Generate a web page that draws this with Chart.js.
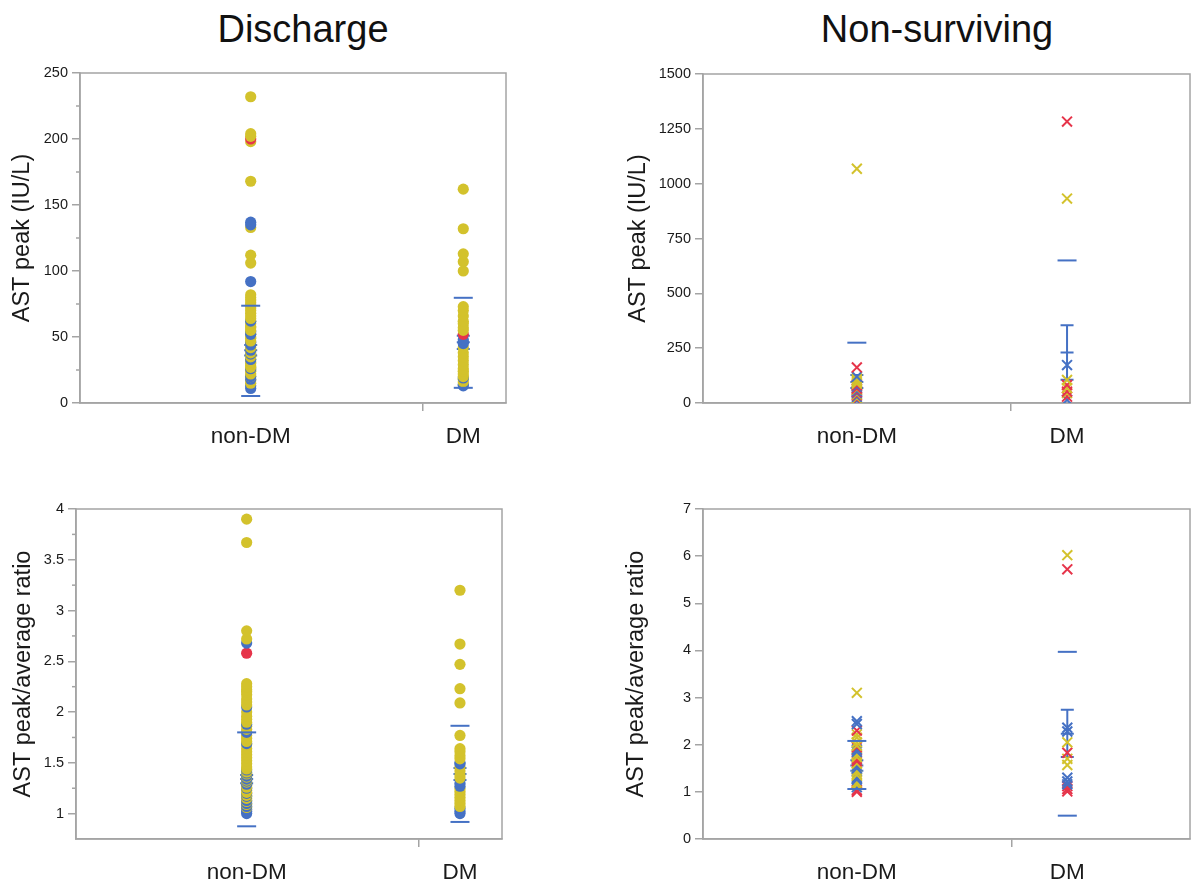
<!DOCTYPE html>
<html>
<head>
<meta charset="utf-8">
<script src="https://cdn.jsdelivr.net/npm/chart.js@4.4.1/dist/chart.umd.min.js"></script>
<style>
  body { margin: 0; background: #fff; width: 1199px; height: 885px; position: relative; overflow: hidden;
         font-family: "Liberation Sans", Arial, sans-serif; }
  canvas { position: absolute; }
  .title { position: absolute; top: 10px; font-size: 38px; line-height: 1; color: #111;
           transform: translateX(-50%); white-space: nowrap; }
</style>
</head>
<body>
<div class="title" style="left:303px">Discharge</div>
<div class="title" style="left:937px">Non-surviving</div>
<canvas id="dcAst" width="560" height="420" style="left:0;top:60px"></canvas>
<canvas id="nsAst" width="599" height="420" style="left:600px;top:60px"></canvas>
<canvas id="dcRatio" width="560" height="405" style="left:0;top:480px"></canvas>
<canvas id="nsRatio" width="599" height="405" style="left:600px;top:480px"></canvas>
<script>
const categories = ['non-DM', 'DM'];

// Discharge - AST peak (IU/L)
const dcAstNonDmYellow = [232, 204, 202, 198, 168, 133, 112, 106, 82, 80, 78, 76, 74, 72, 70, 68, 66, 64, 62, 60,
  58, 57, 55, 52, 50, 49, 47, 44, 42, 40, 38, 36, 35, 33, 31, 30, 28, 27, 25, 24, 22, 20, 17, 15];
const dcAstNonDmBlue = [137, 135, 92, 62, 54, 52, 46, 44, 40, 37, 33, 26, 20, 18, 13, 11];
const dcAstNonDmRed = [200];
const dcAstDmYellow = [162, 132, 113, 107, 100, 73, 70, 66, 62, 60, 57, 55, 42, 38, 35, 32, 29, 26, 24, 22, 20, 18, 16];
const dcAstDmBlue = [48, 46, 45, 19, 14, 13];
const dcAstDmRed = [52];
const dcAstSdHigh = [73.7, 79.7];
const dcAstSdLow = [5.3, 11.5];
const dcAstMean = [40, 46];
const dcAstSeLow = [36, 41];
const dcAstSeHigh = [44, 51];
const dcAstTicks = [0, 50, 100, 150, 200, 250];
const dcAstMinor = [25, 75, 125, 175, 225];

// Non-surviving - AST peak (IU/L)
const nsAstNonDmYellow = [1068, 112, 104, 95, 88, 62, 40, 22];
const nsAstNonDmBlue = [120, 75, 55, 45, 28, 12];
const nsAstNonDmRed = [162, 82, 66, 50, 35, 18];
const nsAstDmYellow = [932, 105, 68, 45];
const nsAstDmBlue = [173, 14];
const nsAstDmRed = [1283, 82, 52, 29];
const nsAstSdHigh = [275, 650];
const nsAstSdLow = [-83, -190];
const nsAstMean = [96, 230];
const nsAstSeLow = [68, 106];
const nsAstSeHigh = [128, 354];
const nsAstTicks = [0, 250, 500, 750, 1000, 1250, 1500];

// Discharge - AST peak/average ratio
const dcRatioNonDmYellow = [3.90, 3.67, 2.80, 2.72, 2.28, 2.25, 2.22, 2.20, 2.17, 2.13, 2.10, 2.07, 2.00, 1.96, 1.93,
  1.90, 1.86, 1.83, 1.77, 1.74, 1.71, 1.68, 1.64, 1.61, 1.58, 1.55, 1.52, 1.49, 1.46, 1.44, 1.41, 1.39, 1.36, 1.33,
  1.31, 1.28, 1.26, 1.23, 1.21, 1.18, 1.15, 1.12, 1.09, 1.06];
const dcRatioNonDmBlue = [2.68, 2.05, 1.88, 1.80, 1.69, 1.43, 1.40, 1.37, 1.34, 1.32, 1.29, 1.25, 1.20, 1.17, 1.13,
  1.10, 1.07, 1.04, 1.02, 1.00];
const dcRatioNonDmRed = [2.58];
const dcRatioDmYellow = [3.20, 2.67, 2.47, 2.23, 2.09, 1.77, 1.64, 1.61, 1.57, 1.54, 1.46, 1.42, 1.38, 1.35, 1.25,
  1.22, 1.19, 1.16, 1.13, 1.10, 1.07];
const dcRatioDmBlue = [1.50, 1.49, 1.30, 1.27, 1.05, 1.02, 1.00];
const dcRatioDmRed = [];
const dcRatioSdHigh = [1.80, 1.865];
const dcRatioSdLow = [0.875, 0.918];
const dcRatioMean = [1.34, 1.39];
const dcRatioSeLow = [1.30, 1.33];
const dcRatioSeHigh = [1.38, 1.45];
const dcRatioTicks = [1, 1.5, 2, 2.5, 3, 3.5, 4];
const dcRatioMinor = [1.25, 1.75, 2.25, 2.75, 3.25, 3.75];

// Non-surviving - AST peak/average ratio
const nsRatioNonDmYellow = [3.10, 2.22, 2.15, 2.05, 1.98, 1.80, 1.74, 1.60, 1.47, 1.42, 1.36, 1.20, 1.15];
const nsRatioNonDmBlue = [2.50, 2.44, 1.90, 1.85, 1.55, 1.50, 1.30, 1.26, 1.10];
const nsRatioNonDmRed = [2.30, 1.95, 1.70, 1.65, 1.04, 1.00];
const nsRatioDmYellow = [6.02, 2.05, 1.70, 1.57];
const nsRatioDmBlue = [2.36, 2.28, 1.30, 1.22, 1.16];
const nsRatioDmRed = [5.72, 1.83, 1.12, 1.06, 1.01];
const nsRatioSdHigh = [2.08, 3.97];
const nsRatioSdLow = [1.06, 0.495];
const nsRatioMean = [1.56, 2.23];
const nsRatioSeLow = [1.45, 1.74];
const nsRatioSeHigh = [1.67, 2.74];
const nsRatioTicks = [0, 1, 2, 3, 4, 5, 6, 7];

const yellow = '#d3c22c';
const blue = '#4571c4';
const red = '#e6344a';
const axisGrey = '#a4a4a4';
const textColor = '#1a1a1a';

Chart.defaults.font.family = '"Liberation Sans", Arial, sans-serif';

// frame, mean error bars, std dev lines and minor ticks
const panelMarks = {
  id: 'panelMarks',
  beforeDatasetsDraw(chart, args, o) {
    const { ctx, chartArea: a, scales: { x, y } } = chart;
    ctx.save();
    ctx.strokeStyle = axisGrey;
    ctx.lineWidth = 1.5;
    ctx.strokeRect(a.left, a.top, a.right - a.left, a.bottom - a.top);
    ctx.beginPath();
    ctx.rect(a.left, a.top, a.right - a.left, a.bottom - a.top);
    ctx.clip();
    ctx.strokeStyle = blue;
    ctx.lineWidth = 2;
    o.mean.forEach((m, i) => {
      const px = x.getPixelForValue(i + 1);
      const hi = y.getPixelForValue(o.seHigh[i]);
      const lo = y.getPixelForValue(o.seLow[i]);
      const mid = y.getPixelForValue(m);
      ctx.beginPath();
      ctx.moveTo(px, hi);
      ctx.lineTo(px, lo);
      [hi, mid, lo].forEach(py => { ctx.moveTo(px - 6.5, py); ctx.lineTo(px + 6.5, py); });
      ctx.stroke();
    });
    ctx.restore();
  },
  afterDatasetsDraw(chart, args, o) {
    const { ctx, scales: { x, y } } = chart;
    ctx.save();
    ctx.strokeStyle = blue;
    ctx.lineWidth = 2;
    categories.forEach((c, i) => {
      const px = x.getPixelForValue(i + 1);
      [o.sdHigh[i], o.sdLow[i]].forEach(v => {
        if (v < y.min || v > y.max) return;
        const py = y.getPixelForValue(v);
        ctx.beginPath();
        ctx.moveTo(px - 9.5, py);
        ctx.lineTo(px + 9.5, py);
        ctx.stroke();
      });
    });
    ctx.restore();
  },
  afterDraw(chart, args, o) {
    if (!o.minor) return;
    const { ctx, chartArea: a, scales: { y } } = chart;
    ctx.save();
    ctx.strokeStyle = axisGrey;
    ctx.lineWidth = 1.5;
    o.minor.forEach(v => {
      const py = y.getPixelForValue(v);
      ctx.beginPath();
      ctx.moveTo(a.left - 4, py);
      ctx.lineTo(a.left, py);
      ctx.stroke();
    });
    ctx.restore();
  }
};
Chart.register(panelMarks);

function buildSet(xVal, yellowVals, blueVals, redVals, cross) {
  const pts = [];
  yellowVals.forEach(v => pts.push({ y: v, c: yellow }));
  blueVals.forEach(v => pts.push({ y: v, c: blue }));
  redVals.forEach(v => pts.push({ y: v, c: red }));
  pts.sort((a, b) => a.y - b.y);
  const colors = pts.map(p => p.c);
  return {
    data: pts.map(p => ({ x: xVal, y: p.y })),
    pointStyle: cross ? 'crossRot' : 'circle',
    pointRadius: cross ? 7 : 5.6,
    pointBorderWidth: cross ? 2 : 0,
    pointBackgroundColor: colors,
    pointBorderColor: colors
  };
}

function makePanel(id, p) {
  new Chart(document.getElementById(id), {
    type: 'scatter',
    data: { datasets: p.sets },
    options: {
      responsive: false,
      animation: false,
      events: [],
      layout: { padding: p.pad },
      plugins: {
        legend: { display: false },
        tooltip: { enabled: false },
        panelMarks: p.marks
      },
      scales: {
        x: {
          type: 'linear',
          min: p.xMin,
          max: p.xMax,
          afterBuildTicks: s => { s.ticks = [1, p.sep, 2].map(v => ({ value: v })); },
          afterFit: s => { s.height = p.xh; },
          ticks: {
            autoSkip: false, maxRotation: 0, minRotation: 0, padding: 12,
            color: textColor, font: { size: 22.5 },
            callback: v => v === 1 ? categories[0] : v === 2 ? categories[1] : ''
          },
          grid: {
            drawOnChartArea: false, tickLength: 8, lineWidth: 1.5,
            tickColor: c => (c.tick && c.tick.value === p.sep) ? axisGrey : 'rgba(0,0,0,0)'
          },
          border: { color: axisGrey, width: 1.5 }
        },
        y: {
          min: p.yMin,
          max: p.yMax,
          afterBuildTicks: s => { s.ticks = p.yTicks.map(v => ({ value: v })); },
          afterFit: s => { s.width = p.yw; },
          title: { display: true, text: p.yTitle, color: textColor, font: { size: 23.5 }, padding: 0 },
          ticks: { padding: 4, color: textColor, font: { size: 14.5 }, callback: v => String(v) },
          grid: { drawOnChartArea: false, tickLength: 8, lineWidth: 1.5, color: axisGrey },
          border: { color: axisGrey, width: 1.5 }
        }
      }
    }
  });
}

makePanel('dcAst', {
  sets: [buildSet(1, dcAstNonDmYellow, dcAstNonDmBlue, dcAstNonDmRed, false),
         buildSet(2, dcAstDmYellow, dcAstDmBlue, dcAstDmRed, false)],
  pad: { left: 8, top: 13, right: 54, bottom: 27 }, yw: 72, xh: 50,
  xMin: 0.197, xMax: 2.201, sep: 1.809,
  yMin: 0, yMax: 250, yTicks: dcAstTicks, yTitle: 'AST peak (IU/L)',
  marks: { sdHigh: dcAstSdHigh, sdLow: dcAstSdLow, mean: dcAstMean, seLow: dcAstSeLow, seHigh: dcAstSeHigh, minor: dcAstMinor }
});

makePanel('nsAst', {
  sets: [buildSet(1, nsAstNonDmYellow, nsAstNonDmBlue, nsAstNonDmRed, true),
         buildSet(2, nsAstDmYellow, nsAstDmBlue, nsAstDmRed, true)],
  pad: { left: 24, top: 14, right: 2, bottom: 27 }, yw: 79, xh: 50,
  xMin: 0.268, xMax: 2.585, sep: 1.734,
  yMin: 0, yMax: 1500, yTicks: nsAstTicks, yTitle: 'AST peak (IU/L)',
  marks: { sdHigh: nsAstSdHigh, sdLow: nsAstSdLow, mean: nsAstMean, seLow: nsAstSeLow, seHigh: nsAstSeHigh, minor: null }
});

makePanel('dcRatio', {
  sets: [buildSet(1, dcRatioNonDmYellow, dcRatioNonDmBlue, dcRatioNonDmRed, false),
         buildSet(2, dcRatioDmYellow, dcRatioDmBlue, dcRatioDmRed, false)],
  pad: { left: 9, top: 29, right: 58, bottom: 0 }, yw: 67, xh: 46,
  xMin: 0.2, xMax: 2.197, sep: 1.808,
  yMin: 0.75, yMax: 4, yTicks: dcRatioTicks, yTitle: 'AST peak/average ratio',
  marks: { sdHigh: dcRatioSdHigh, sdLow: dcRatioSdLow, mean: dcRatioMean, seLow: dcRatioSeLow, seHigh: dcRatioSeHigh, minor: dcRatioMinor }
});

makePanel('nsRatio', {
  sets: [buildSet(1, nsRatioNonDmYellow, nsRatioNonDmBlue, nsRatioNonDmRed, true),
         buildSet(2, nsRatioDmYellow, nsRatioDmBlue, nsRatioDmRed, true)],
  pad: { left: 22, top: 29, right: 2, bottom: 0 }, yw: 81, xh: 46,
  xMin: 0.269, xMax: 2.583, sep: 1.735,
  yMin: 0, yMax: 7, yTicks: nsRatioTicks, yTitle: 'AST peak/average ratio',
  marks: { sdHigh: nsRatioSdHigh, sdLow: nsRatioSdLow, mean: nsRatioMean, seLow: nsRatioSeLow, seHigh: nsRatioSeHigh, minor: null }
});
</script>
</body>
</html>
